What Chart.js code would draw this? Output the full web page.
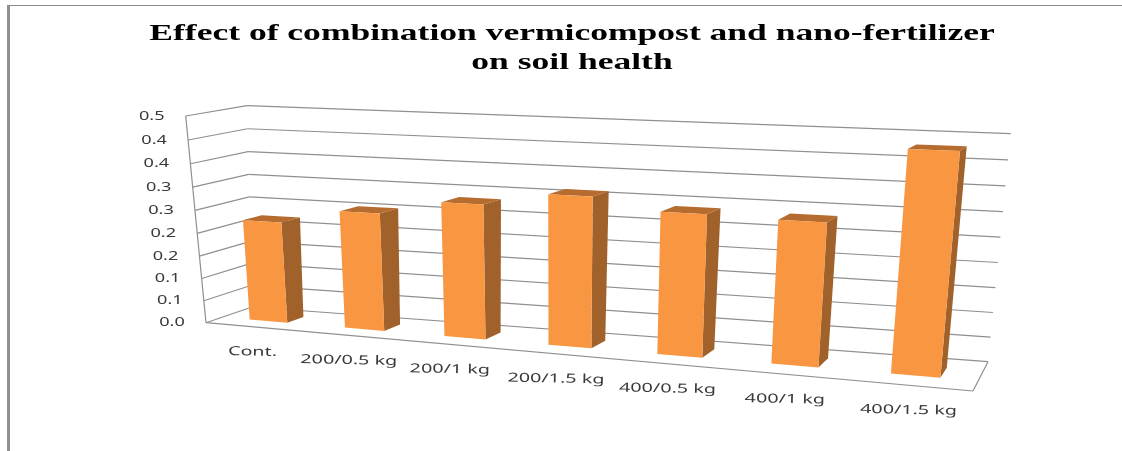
<!DOCTYPE html>
<html>
<head>
<meta charset="utf-8">
<style>
  html, body { margin: 0; background: #fff; }
  #wrap { position: relative; width: 1122px; height: 451px; overflow: hidden; }
  #frame { position: absolute; left: 7px; top: 5px; width: 1200px; height: 500px; border-left: 3px solid #8f8f8f; border-top: 1.5px solid #8a8a8a; }
</style>
</head>
<body>
<div id="wrap">
  <canvas id="chart" width="1122" height="451"></canvas>
  <div id="frame"></div>
</div>
<script src="https://cdn.jsdelivr.net/npm/chart.js@4"></script>
<script>
const TITLE_LINES = ['Effect of combination vermicompost and nano-fertilizer', 'on soil health'];
const CATEGORIES = ['Cont.', '200/0.5 kg', '200/1 kg', '200/1.5 kg', '400/0.5 kg', '400/1 kg', '400/1.5 kg'];
const SOIL_HEALTH = [0.222, 0.254, 0.285, 0.313, 0.29, 0.287, 0.431];
const Y_TICK_VALUES = [0, 0.05, 0.1, 0.15, 0.2, 0.25, 0.3, 0.35, 0.4, 0.45];
const Y_TICK_LABELS = ['0.0', '0.1', '0.1', '0.2', '0.2', '0.3', '0.3', '0.4', '0.4', '0.5'];

const FRONT_COLOR = '#F99642';
const SIDE_COLOR = '#A1612A';
const TOP_COLOR = '#B56C2E';
const GRID_COLOR = '#8f8f8f';
const TEXT_COLOR = '#3a3a3a';
const X_TEXT_STRETCH = 1.58;
const Y_TEXT_STRETCH = 1.45;
const TITLE_STRETCH = 1.48;

// Corners of the box in the picture: [bottom-left, bottom-right, top-right, top-left]
const FRONT_PLANE = [[206, 322.7], [973, 391], [995.7, 146.4], [185.7, 116]];
const BACK_PLANE = [[252, 307], [988, 361.7], [1010.7, 133.7], [247, 105.7]];
const BAR_DEPTH_START = 0.345;
const BAR_DEPTH_END = 0.695;

function squareToQuad(q, u, v) {
    const [[x0, y0], [x1, y1], [x2, y2], [x3, y3]] = q;
    const dx1 = x1 - x2, dx2 = x3 - x2, sx = x0 - x1 + x2 - x3;
    const dy1 = y1 - y2, dy2 = y3 - y2, sy = y0 - y1 + y2 - y3;
    const den = dx1 * dy2 - dx2 * dy1;
    const g = (sx * dy2 - dx2 * sy) / den;
    const h = (dx1 * sy - sx * dy1) / den;
    const w = g * u + h * v + 1;
    return [
        ((x1 - x0 + g * x1) * u + (x3 - x0 + h * x3) * v + x0) / w,
        ((y1 - y0 + g * y1) * u + (y3 - y0 + h * y3) * v + y0) / w
    ];
}

/** u along the categories, v up the value axis, d from front to back; all 0..1 */
function project(u, v, d) {
    const a = squareToQuad(FRONT_PLANE, u, v);
    const b = squareToQuad(BACK_PLANE, u, v);
    return [a[0] + (b[0] - a[0]) * d, a[1] + (b[1] - a[1]) * d];
}

function fillPoly(ctx, points, color) {
    ctx.beginPath();
    points.forEach((p, i) => (i ? ctx.lineTo(p[0], p[1]) : ctx.moveTo(p[0], p[1])));
    ctx.closePath();
    ctx.fillStyle = color;
    ctx.fill();
}

function strokeLine(ctx, a, b) {
    ctx.beginPath();
    ctx.moveTo(a[0], a[1]);
    ctx.lineTo(b[0], b[1]);
    ctx.stroke();
}

function stretchedText(ctx, text, x, y, angle, stretch) {
    ctx.save();
    ctx.translate(x, y);
    ctx.rotate(angle);
    ctx.scale(stretch, 1);
    ctx.fillText(text, 0, 0);
    ctx.restore();
}

// Bars keep their scale-computed geometry, only the painting goes through the projection
Chart.BarElement.prototype.draw = function (ctx) {
    const { x, y, base, width } = this.getProps(['x', 'y', 'base', 'width']);
    const area = Chart.getChart(ctx.canvas).chartArea;
    const toU = (px) => (px - area.left) / area.width;
    const toV = (py) => (area.bottom - py) / area.height;
    const u0 = toU(x - width / 2), u1 = toU(x + width / 2);
    const v0 = toV(base), v1 = toV(y);
    const d0 = BAR_DEPTH_START, d1 = BAR_DEPTH_END;
    fillPoly(ctx, [project(u1, v0, d0), project(u1, v0, d1), project(u1, v1, d1), project(u1, v1, d0)], SIDE_COLOR);
    fillPoly(ctx, [project(u0, v1, d0), project(u1, v1, d0), project(u1, v1, d1), project(u0, v1, d1)], TOP_COLOR);
    fillPoly(ctx, [project(u0, v0, d0), project(u1, v0, d0), project(u1, v1, d0), project(u0, v1, d0)], this.options.backgroundColor);
};

const perspectiveBox = {
    id: 'perspectiveBox',
    beforeDraw(chart) {
        // title glyphs are stretched wide in the reference
        const ctx = chart.ctx;
        const cx = (chart.titleBlock.left + chart.titleBlock.right) / 2;
        ctx.save();
        ctx.translate(cx, 0);
        ctx.scale(TITLE_STRETCH, 1);
        ctx.translate(-cx, 0);
    },
    beforeDatasetsDraw(chart) {
        const ctx = chart.ctx;
        ctx.restore();
        const yScale = chart.scales.y;
        const area = chart.chartArea;
        ctx.save();
        ctx.strokeStyle = GRID_COLOR;
        ctx.lineWidth = 1.2;
        for (const value of Y_TICK_VALUES) {
            const v = (area.bottom - yScale.getPixelForValue(value)) / area.height;
            strokeLine(ctx, project(0, v, 0), project(0, v, 1));
            strokeLine(ctx, project(0, v, 1), project(1, v, 1));
        }
        strokeLine(ctx, project(0, 0, 0), project(0, 1, 0));
        strokeLine(ctx, project(0, 0, 0), project(1, 0, 0));
        strokeLine(ctx, project(1, 0, 0), project(1, 0, 1));
        ctx.restore();
    },
    afterDatasetsDraw(chart) {
        const ctx = chart.ctx;
        const yScale = chart.scales.y;
        const xScale = chart.scales.x;
        const area = chart.chartArea;
        ctx.save();
        ctx.fillStyle = TEXT_COLOR;
        ctx.font = '12.5px "Noto Sans"';
        ctx.textAlign = 'center';
        ctx.textBaseline = 'middle';
        Y_TICK_VALUES.forEach((value, i) => {
            const v = (area.bottom - yScale.getPixelForValue(value)) / area.height;
            const p = project(0, v, 0);
            stretchedText(ctx, Y_TICK_LABELS[i], p[0] - 34, p[1], 0, Y_TEXT_STRETCH);
        });
        CATEGORIES.forEach((label, i) => {
            const u = (xScale.getPixelForValue(i) - area.left) / area.width;
            const p = project(u, 0, 0);
            stretchedText(ctx, label, p[0], p[1] + 25, 0.02, X_TEXT_STRETCH);
        });
        ctx.restore();
    }
};

new Chart(document.getElementById('chart'), {
    type: 'bar',
    data: {
        labels: CATEGORIES,
        datasets: [{
            data: SOIL_HEALTH,
            backgroundColor: FRONT_COLOR,
            barPercentage: 0.4,
            categoryPercentage: 1,
            clip: false
        }]
    },
    options: {
        responsive: false,
        animation: false,
        layout: { padding: { left: 22 } },
        plugins: {
            legend: { display: false },
            tooltip: { enabled: false },
            title: {
                display: true,
                text: TITLE_LINES,
                color: '#000',
                font: { family: '"Liberation Serif"', size: 24, weight: 'bold', lineHeight: 1.19 },
                padding: { top: 20, bottom: 10 }
            }
        },
        scales: {
            x: { display: false, offset: true },
            y: { display: false, min: 0, max: 0.45, ticks: { stepSize: 0.05 } }
        }
    },
    plugins: [perspectiveBox]
});
</script>
</body>
</html>
